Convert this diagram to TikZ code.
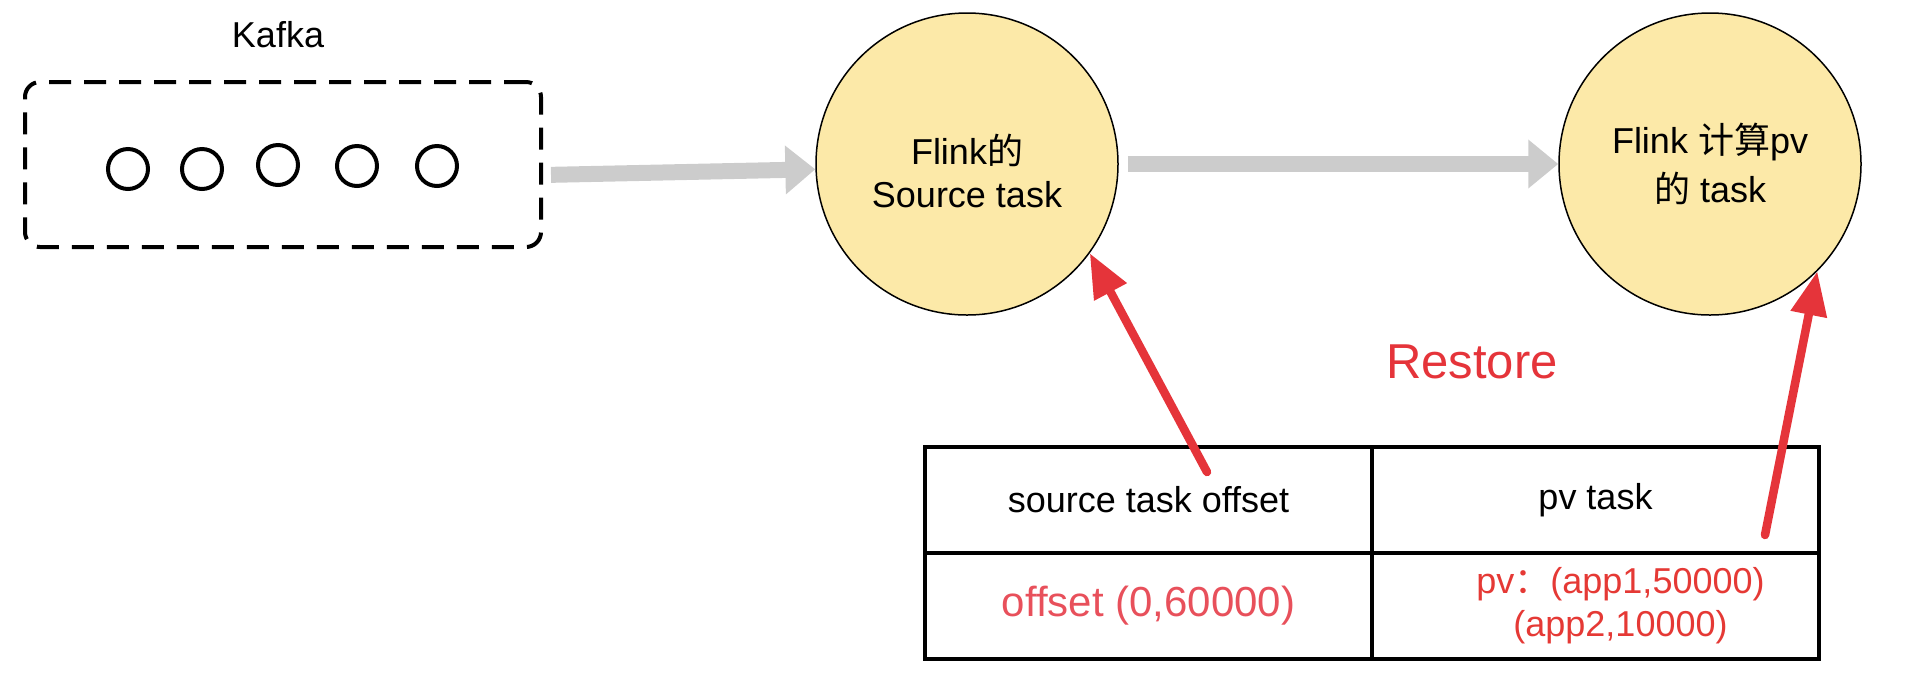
\documentclass[tikz,border=0pt]{standalone}
\usepackage{fontspec}
\setmainfont{Liberation Sans}
\newfontfamily\cjk{Noto Sans CJK SC}
\usetikzlibrary{positioning, arrows.meta}

\definecolor{taskfill}{RGB}{252,233,168}
\definecolor{flowgray}{RGB}{204,204,204}
\definecolor{restorered}{RGB}{229,52,58}
\definecolor{offsetred}{RGB}{232,80,91}
\definecolor{pvred}{RGB}{229,57,53}

\begin{document}
\begin{tikzpicture}[x=0.5pt, y=-0.5pt, font=\fontsize{18}{21.5}\selectfont,
    task/.style={circle, draw, line width=0.75pt, fill=taskfill, minimum size=151pt, inner sep=0pt, align=center},
    msg/.style={circle, draw, line width=2pt, minimum size=20pt, inner sep=0pt},
    kafkabox/.style={rectangle, draw, line width=2pt, dash pattern=on 11pt off 6.5pt, rounded corners=7.5pt, minimum width=258pt, minimum height=82.5pt},
    cell/.style={rectangle, draw, line width=1.75pt, minimum width=223.5pt, minimum height=53pt, inner sep=0pt, outer sep=0pt, align=center},
    flow/.style={color=flowgray, line width=8pt, -{Triangle[length=15pt, width=23.5pt]}},
    restore/.style={color=restorered, line width=4.25pt, line cap=round, -{Triangle[length=22pt, width=17.5pt]}}]
    \useasboundingbox (0,0) rectangle (1922,698);

    % Kafka
    \node[kafkabox] (kafka) at (283,164.5) {};
    \node (kafkalabel) at (278,35) {Kafka};
    \foreach \x/\y [count=\i] in {128/169, 202/169, 278/165, 357/166, 437/166}
        \node[msg] (m\i) at (\x,\y) {};

    % Tasks
    \node[task] (src) at (967,164) {\rule{0pt}{22pt}Flink{\cjk 的}\\Source task};
    \node[task] (pv) at (1710,164) {Flink {\cjk 计算}pv\\[3pt]{\cjk 的} task};

    % Checkpoint table
    \node[cell] (hdsrc) at (1148.5,500) {source task offset};
    \node[cell] (hdpv) [right=0pt of hdsrc] {pv task};
    \node[cell, text=offsetred, font=\fontsize{21}{24}\selectfont] (valsrc) [below=0pt of hdsrc] {offset (0,60000)};
    \node[cell] (valpv) [below=0pt of hdpv] {};
    \node[text=pvred, align=center] (pvstate) at ([xshift=12.5pt]valpv.center) {pv{\cjk ：}(app1,50000)\\(app2,10000)};

    \node[text=restorered, font=\fontsize{24.5}{29}\selectfont] (restorelabel) at (1472,362) {Restore};

    % Data flow
    \draw[flow, shorten <=4pt] ([yshift=-5.25pt]kafka.east) -- (src.182);
    \draw[flow, shorten <=4.5pt] (src.east) -- (pv.west);

    % Restore from the table
    \coordinate (srcfrom) at (1207,472);
    \coordinate (pvfrom) at (1765,535);
    \draw[restore] (srcfrom) -- (src.-36);
    \draw[restore] (pvfrom) -- (pv.-45);
\end{tikzpicture}
\end{document}
